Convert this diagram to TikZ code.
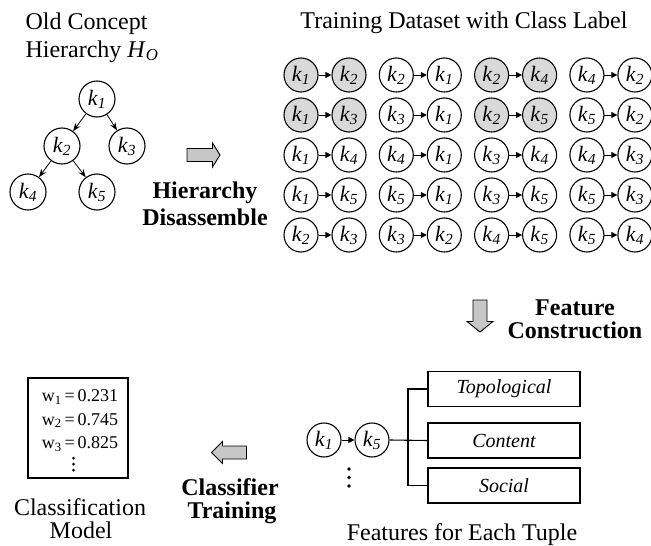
\documentclass[tikz,border=0pt]{standalone}
\usepackage{fontspec}
\setmainfont{Liberation Serif}
\usetikzlibrary{arrows.meta}

% node label k_i with italic subscript
\newcommand{\kk}[1]{\textit{k}\textsubscript{\textit{#1}}}

\tikzset{
  every picture/.style={line join=miter},
  kn/.style={circle, draw, line width=1.1pt, minimum size=34pt, inner sep=0pt,
             font=\fontsize{22}{24}\selectfont},
  kg/.style={kn, fill=black!15},
  kt/.style={kn, minimum size=36pt},
  pairarrow/.style={line width=1pt, -{Triangle[length=6pt,width=6pt]}},
  treearrow/.style={line width=0.8pt, -{Stealth[length=8pt,width=6pt]}},
  blockarrow/.style={draw, line width=0.9pt, fill=black!22},
  title/.style={font=\fontsize{24}{27}\selectfont, anchor=base},
  boldlabel/.style={font=\fontsize{24}{27}\selectfont\bfseries, anchor=base},
  featbox/.style={draw, line width=1.1pt, minimum width=152pt, minimum height=35pt,
                  inner sep=0pt, font=\fontsize{20}{22}\selectfont\itshape},
  wline/.style={font=\fontsize{18}{20}\selectfont, anchor=base},
}

\begin{document}
\begin{tikzpicture}[x=1pt, y=-1pt]
\useasboundingbox (0,0) rectangle (651,546);
\clip (0,0) rectangle (651,546);

% ---------- old concept hierarchy ----------
\node[title, anchor=base west] (t1) at (22,30) {Old Concept};
\node[title, anchor=base west] (t2) at (22,57) {Hierarchy \textit{H}\textsubscript{\textit{O}}};

\node[kt] (h1) at (97,99) {\kk{1}};
\node[kt] (h2) at (62,146) {\kk{2}};
\node[kt] (h3) at (127,146) {\kk{3}};
\node[kt] (h4) at (28,192) {\kk{4}};
\node[kt] (h5) at (97,192) {\kk{5}};
\draw[treearrow] (h1) -- (h2);
\draw[treearrow] (h1) -- (h3);
\draw[treearrow] (h2) -- (h4);
\draw[treearrow] (h2) -- (h5);

% ---------- hierarchy disassemble ----------
\draw[blockarrow] (187,148.5) -- (212.5,148.5) -- (212.5,143) -- (220,155)
  -- (212.5,167) -- (212.5,161.5) -- (187,161.5) -- cycle;
\node[boldlabel] (hd1) at (205,198) {Hierarchy};
\node[boldlabel] (hd2) at (205,225) {Disassemble};

% ---------- training dataset ----------
\node[title] (t3) at (464,28) {Training Dataset with Class Label};

\foreach \r/\y in {1/75,2/115,3/155,4/195,5/235}{
  \foreach \c in {1,2,3,4}{
    \coordinate (p\r\c) at ({301+95.3*(\c-1)},\y);
  }
}
% row, column, source, target, style
\foreach \r/\c/\a/\b/\s in {
  1/1/1/2/kg, 1/2/2/1/kn, 1/3/2/4/kg, 1/4/4/2/kn,
  2/1/1/3/kg, 2/2/3/1/kn, 2/3/2/5/kg, 2/4/5/2/kn,
  3/1/1/4/kn, 3/2/4/1/kn, 3/3/3/4/kn, 3/4/4/3/kn,
  4/1/1/5/kn, 4/2/5/1/kn, 4/3/3/5/kn, 4/4/5/3/kn,
  5/1/2/3/kn, 5/2/3/2/kn, 5/3/4/5/kn, 5/4/5/4/kn}{
  \node[\s] (a\r\c) at (p\r\c) {\kk{\a}};
  \node[\s] (b\r\c) at ([xshift=48pt]p\r\c) {\kk{\b}};
  \draw[pairarrow] (a\r\c) -- (b\r\c);
}

% ---------- feature construction ----------
\draw[blockarrow] (473,300) -- (487,300) -- (487,321.5) -- (493,321.5) -- (480,332)
  -- (467,321.5) -- (473,321.5) -- cycle;
\node[boldlabel] (fc1) at (575,315) {Feature};
\node[boldlabel] (fc2) at (575,338.5) {Construction};

% ---------- features for each tuple ----------
\node[kn] (f1) at (324,440) {\kk{1}};
\node[kn] (f5) at (372,440) {\kk{5}};
\draw[pairarrow] (f1) -- (f5);
\foreach \yy in {469,477.5,486}{
  \fill (349,\yy) circle (1.8pt);
}
\node[featbox] (topo) at (504,389) {Topological};
\node[featbox] (cont) at (504,440.5) {Content};
\node[featbox] (soc) at (504,485.5) {Social};
\coordinate (junc) at (408,440.5);
\draw[line width=1.1pt] (f5.east) -- (cont.west);
\draw[line width=1.1pt] (topo.west) -| (junc) |- (soc.west);
\node[title] (ft) at (462,540.5) {Features for Each Tuple};

% ---------- classifier training ----------
\draw[blockarrow] (246.5,446) -- (222.5,446) -- (222.5,441.5) -- (211.5,452.5)
  -- (222.5,463.5) -- (222.5,459) -- (246.5,459) -- cycle;
\node[boldlabel] (ct1) at (230,495) {Classifier};
\node[boldlabel] (ct2) at (232,518) {Training};

% ---------- classification model ----------
\node[draw, line width=1.1pt, minimum width=100pt, minimum height=100pt, inner sep=0pt]
  (model) at (78,428) {};
\node[wline] (w1) at (80,401.5) {w\textsubscript{1}\,=\,0.231};
\node[wline] (w2) at (80,425) {w\textsubscript{2}\,=\,0.745};
\node[wline] (w3) at (80,448.5) {w\textsubscript{3}\,=\,0.825};
\foreach \yy in {458,464,470}{
  \fill (73.5,\yy) circle (1.5pt);
}
\node[title] (cm1) at (80,515) {Classification};
\node[title] (cm2) at (81,538) {Model};

\end{tikzpicture}
\end{document}
